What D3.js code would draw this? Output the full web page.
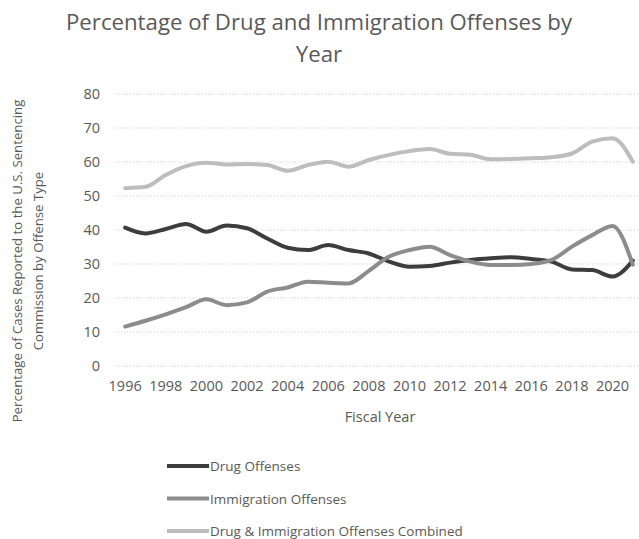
<!DOCTYPE html>
<html><head><meta charset="utf-8">
<script src="https://cdn.jsdelivr.net/npm/d3@7"></script>
<style>body{margin:0;background:#fff}svg{display:block}</style>
</head><body>
<svg id="c" width="639" height="539"></svg>
<script>
const years = d3.range(1996, 2022);
const drug = [40.7,39.0,40.3,41.8,39.5,41.3,40.5,37.5,34.8,34.1,35.6,34.1,33.1,30.7,29.2,29.4,30.4,31.2,31.7,32.0,31.5,30.7,28.4,28.2,26.3,31.0];
const immigration = [11.6,13.3,15.2,17.3,19.6,17.9,18.7,21.9,23.1,24.8,24.5,24.3,28.0,32.2,34.1,35.1,32.6,30.7,29.7,29.7,30.0,31.2,35.1,38.5,41.2,29.8];
const combined = [52.3,52.7,56.2,58.8,59.8,59.3,59.4,59.1,57.4,59.1,60.1,58.6,60.6,62.1,63.2,63.8,62.4,62.1,60.8,60.9,61.1,61.4,62.5,66.0,67.0,60.1];
const yTicks = [0,10,20,30,40,50,60,70,80];
const xTickYears = d3.range(1996, 2022, 2);
const seriesNames = ["Drug Offenses","Immigration Offenses","Drug & Immigration Offenses Combined"];
const seriesColors = ["#3d3d3d","#8c8c8c","#bdbdbd"];
const title = ["Percentage of Drug and Immigration Offenses by","Year"];
const yLabel = ["Percentage of Cases Reported to the U.S. Sentencing","Commission by Offense Type"];
const xLabel = "Fiscal Year";

const FONT = "'Open Sans', 'Noto Sans', sans-serif";
const TXT = "#595959";
const svg = d3.select("#c");

const x = d3.scaleBand().domain(years).range([115, 643]);
const y = d3.scaleLinear().domain([0, 80]).range([366, 94]);
const cx = d => x(d) + x.bandwidth()/2;

function fit(sel, target){
  const w = sel.node().getComputedTextLength();
  const fs = parseFloat(sel.attr("font-size"));
  sel.attr("font-size", (fs*target/w).toFixed(2));
}

// title
const t1 = svg.append("text").attr("x",319).attr("y",30).attr("text-anchor","middle")
  .attr("font-family",FONT).attr("font-size",20).attr("fill",TXT).text(title[0]);
fit(t1, 506);
svg.append("text").attr("x",319).attr("y",62).attr("text-anchor","middle")
  .attr("font-family",FONT).attr("font-size",t1.attr("font-size")).attr("fill",TXT).text(title[1]);

// gridlines
svg.append("g").selectAll("line").data(yTicks).join("line")
  .attr("x1",115).attr("x2",643).attr("y1",d=>y(d)).attr("y2",d=>y(d))
  .attr("stroke","#cfcfcf").attr("stroke-width",1).attr("stroke-dasharray","1,2");

// y axis
const yAxis = svg.append("g").attr("transform","translate(100,0)")
  .call(d3.axisLeft(y).tickValues(yTicks).tickSize(0).tickPadding(0));
yAxis.select(".domain").remove();
yAxis.selectAll("text").attr("font-family",FONT).attr("font-size",14.5).attr("fill",TXT);

// x axis
const xAxis = svg.append("g").attr("transform","translate(0,378)")
  .call(d3.axisBottom(x).tickValues(xTickYears).tickSize(0).tickPadding(0));
xAxis.select(".domain").remove();
xAxis.selectAll("text").attr("font-family",FONT).attr("font-size",14.5).attr("fill",TXT).attr("dy","0.9em");

// axis titles
svg.append("text").attr("x",380).attr("y",422).attr("text-anchor","middle")
  .attr("font-family",FONT).attr("font-size",14.5).attr("fill",TXT).text(xLabel);
svg.append("text").attr("transform","translate(22,261) rotate(-90)").attr("text-anchor","middle")
  .attr("font-family",FONT).attr("font-size",13.2).attr("fill",TXT).text(yLabel[0]);
svg.append("text").attr("transform","translate(43,261) rotate(-90)").attr("text-anchor","middle")
  .attr("font-family",FONT).attr("font-size",13.2).attr("fill",TXT).text(yLabel[1]);

// lines
const data = [drug, immigration, combined];
const line = d3.line().x((d,i)=>cx(years[i])).y(d=>y(d)).curve(d3.curveMonotoneX);
svg.append("g").selectAll("path").data(data).join("path")
  .attr("d", line).attr("fill","none")
  .attr("stroke",(d,i)=>seriesColors[i]).attr("stroke-width",4)
  .attr("stroke-linejoin","round").attr("stroke-linecap","round");

// legend
const lg = svg.append("g").selectAll("g").data(seriesNames).join("g")
  .attr("transform",(d,i)=>`translate(167,${466 + i*32.5})`);
lg.append("line").attr("x1",0).attr("x2",42).attr("y1",0).attr("y2",0)
  .attr("stroke",(d,i)=>seriesColors[i]).attr("stroke-width",4);
lg.append("text").attr("x",43).attr("y",5).attr("font-family",FONT)
  .attr("font-size",13.5).attr("fill",TXT).text(d=>d);
</script>
</body></html>
